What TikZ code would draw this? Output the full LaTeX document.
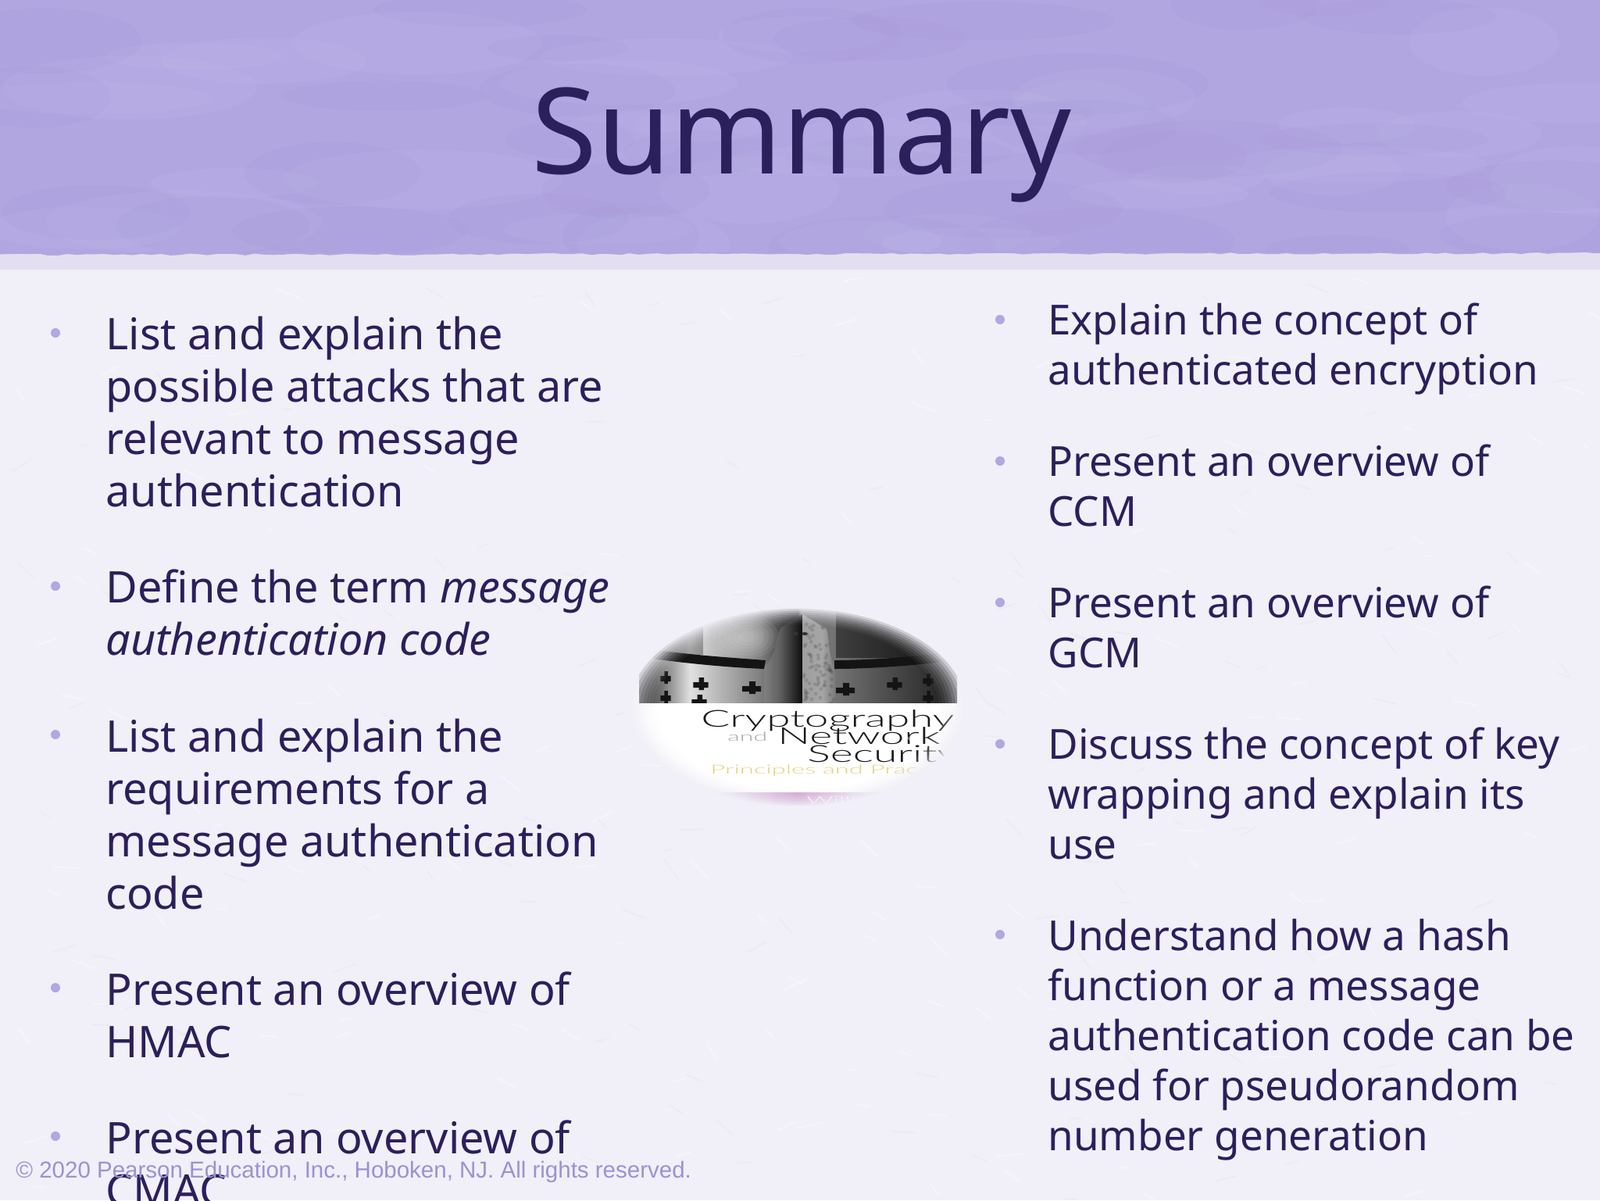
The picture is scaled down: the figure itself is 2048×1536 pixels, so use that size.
\documentclass[tikz,border=0pt]{standalone}
\usepackage{fontspec}
\usetikzlibrary{decorations.pathmorphing}
\setmainfont{Noto Sans}
\newfontfamily\footfont{Liberation Sans}
\newfontfamily\coverfont{Lato Light}
\definecolor{inkpurple}{HTML}{2B1F5C}
\definecolor{bulletpurple}{HTML}{B3A7E0}
\definecolor{headerpurple}{HTML}{B2A6E1}
\definecolor{headerdark}{HTML}{A092D4}
\definecolor{paper}{HTML}{F1EFF7}
\definecolor{bandpurple}{HTML}{E3DFF1}
\definecolor{footpurple}{HTML}{9C91D2}
\definecolor{coveryellow}{HTML}{E2D27A}
\pgfdeclarehorizontalshading{helmshade}{100bp}{
 color(0bp)=(black!85);color(25bp)=(black!85);color(28bp)=(black!60);color(33bp)=(black!12);
 color(38bp)=(black!30);color(44bp)=(black!50);color(47bp)=(black!70);color(50bp)=(black!90);color(50.5bp)=(black!55);
 color(56bp)=(black!55);color(63bp)=(black!68);color(70bp)=(black!80);color(75bp)=(black!92);color(100bp)=(black!92)}
\pgfdeclarehorizontalshading{noseleft}{100bp}{
 color(0bp)=(black!50);color(25bp)=(black!50);color(45bp)=(black!62);color(75bp)=(black!95);color(100bp)=(black!95)}
\pgfdeclarehorizontalshading{noseright}{100bp}{
 color(0bp)=(black!38);color(25bp)=(black!38);color(55bp)=(black!35);color(75bp)=(black!52);color(100bp)=(black!52)}
\tikzset{
 x=.5pt,y=-.5pt,
 lefttext/.style={anchor=base west,inner sep=0,text=inkpurple,font=\fontsize{27.9}{32}\selectfont},
 righttext/.style={anchor=base west,inner sep=0,text=inkpurple,font=\fontsize{26.5}{30}\selectfont},
 bulletdot/.style={circle,fill=bulletpurple,inner sep=0,minimum size=6pt},
 covertext/.style={anchor=base west,inner sep=0,text=black!90},
 helmhole/.pic={\fill[black!92] (-3,-8) rectangle (5,8) (-12,-2) rectangle (12,5);}
}
\begin{document}
\begin{tikzpicture}
\useasboundingbox (0,0) rectangle (2048,1536);
\clip (0,0) rectangle (2048,1536);
% paper and header
\fill[paper] (0,0) rectangle (2048,1536);
\fill[bandpurple] (-10,320) rectangle (2058,345);
\fill[headerpurple,decorate,decoration={random steps,segment length=6pt,amplitude=.6pt}] (-10,-10) -- (-10,326) -- (2058,324) -- (2058,-10) -- cycle;
\pgfmathsetseed{7}
\begin{scope}
\clip (0,0) rectangle (2048,322);
\foreach \i in {1,...,70}{
 \pgfmathsetmacro{\px}{1024+1024*rand}
 \pgfmathsetmacro{\py}{160+160*rand}
 \pgfmathsetmacro{\rx}{40+50*rnd}
 \pgfmathsetmacro{\ry}{8+14*rnd}
 \ifodd\i
  \fill[headerdark,opacity=.12] (\px,\py) ellipse (\rx pt and \ry pt);
 \else
  \fill[white,opacity=.035] (\px,\py) ellipse (\rx pt and \ry pt);
 \fi
}
\end{scope}
% book cover vignette
\fill[white] (1021,905) ellipse (215 and 126);
\begin{scope}
\clip (818,775) rectangle (1225,1040);
\shade[shading=helmshade] (818,775) rectangle (1225,900);
\fill[black,opacity=.45] (1070,775) rectangle (1225,842);
\foreach \r in {1,.85,.7,.55,.4,.25}{
 \fill[white,opacity=.07] (955,815) ellipse ({42*\r} and {28*\r});
}
\fill[black,opacity=.3] (818,775) rectangle (900,838);
\shade[shading=noseleft] (1027,786) -- (1000,803) .. controls (992,815) and (995,840) .. (978,853) -- (978,900) -- (1027,900) -- cycle;
\shade[shading=noseright] (1027,786) -- (1058,805) .. controls (1062,820) and (1060,840) .. (1069,855) -- (1069,900) -- (1027,900) -- cycle;
\begin{scope}
\clip (1027,786) -- (1058,805) .. controls (1062,820) and (1060,840) .. (1069,855) -- (1069,900) -- (1027,900) -- cycle;
\foreach \i in {1,...,90}{
 \pgfmathsetmacro{\px}{1048+21*rand}
 \pgfmathsetmacro{\py}{843+57*rand}
 \fill[black,opacity=.12] (\px,\py) circle (1.2pt);
}
\end{scope}
\fill[black!92] (835,831) .. controls (880,838) and (940,842) .. (980,845) -- (978,856) .. controls (930,854) and (880,849) .. (835,843) -- cycle;
\fill[black!92] (1068,845) .. controls (1110,845) and (1170,841) .. (1215,834) -- (1215,846) .. controls (1170,852) and (1110,856) .. (1068,856) -- cycle;
\fill[black!80] (1018,811) ellipse (4 and 2) (1030,811) ellipse (4 and 2);
\foreach \n/\hx/\hy/\hs in {a/852/867/.55,b/897/875/.8,c/962/880/1,d/1082/882/1,e/1145/875/.8,f/1188/870/.55,g/852/892/.55,h/895/897/.8,i/1188/892/.55}{
 \pic[xscale=\hs] (hole\n) at (\hx,\hy) {helmhole};
}
\fill[white] (818,900) rectangle (1225,1014);
\shade[left color=paper,right color=paper,middle color=violet!35!white] (905,1014) rectangle (1135,1032);
\node[covertext,font=\coverfont\fontsize{15}{16}\selectfont] (covera) at (897,930) {\scalebox{1.83}[1]{Cryptography}};
\node[covertext,font=\coverfont\fontsize{8}{9}\selectfont,text=black!35] (coverb) at (931,948) {\scalebox{2}[1]{and}};
\node[covertext,font=\coverfont\fontsize{15}{16}\selectfont] (coverc) at (995,952) {\scalebox{1.85}[1]{Network}};
\node[covertext,font=\coverfont\fontsize{15}{16}\selectfont] (coverd) at (1033,975) {\scalebox{1.85}[1]{Security}};
\node[covertext,font=\coverfont\fontsize{8}{9}\selectfont,text=coveryellow] (covere) at (909,990) {\scalebox{2.05}[1]{Principles and Prac}};
\node[covertext,font=\coverfont\fontsize{7}{8}\selectfont,text=white] (coverf) at (1032,1029) {\scalebox{2.4}[1]{Willi}};
\end{scope}
% soft vignette over the cover
\foreach \s/\o in {.84/.05,.86/.07,.88/.09,.90/.12,.92/.16,.94/.22,.96/.32,.98/.5,1/1}{
 \fill[paper,opacity=\o,even odd rule] (800,765) rectangle (1245,1045) (1021,905) ellipse ({215*\s} and {126*\s});
}
% paper texture
\foreach \i in {1,...,320}{
 \pgfmathsetmacro{\px}{1024+1024*rand}
 \pgfmathsetmacro{\py}{945+590*rand}
 \pgfmathsetmacro{\pa}{-30+90*rnd}
 \pgfmathsetmacro{\pl}{10+22*rnd}
 \ifodd\i
 \draw[line width=1.2pt,white,opacity=.35,line cap=round] (\px,\py) -- ++(\pa:\pl);
 \else
 \draw[line width=1pt,black,opacity=.018,line cap=round] (\px,\py) -- ++(\pa:\pl);
 \fi
}
% left column
\node[bulletdot] (la) at (71,426) {};
\node[bulletdot] (lb) at (71,750) {};
\node[bulletdot] (lc) at (71,940) {};
\node[bulletdot] (ld) at (71,1264) {};
\node[bulletdot] (le) at (71,1454) {};
\node[lefttext] (l1) at (135,447) {List and explain the};
\node[lefttext] (l2) at (135,514) {possible attacks that are};
\node[lefttext] (l3) at (135,581) {relevant to message};
\node[lefttext] (l4) at (135,648) {authentication};
\node[lefttext] (l5) at (135,771.5) {Define the term \textit{message}};
\node[lefttext] (l6) at (135,838.5) {\textit{authentication code}};
\node[lefttext] (l7) at (135,962) {List and explain the};
\node[lefttext] (l8) at (135,1029) {requirements for a};
\node[lefttext] (l9) at (135,1096) {message authentication};
\node[lefttext] (l10) at (135,1163) {code};
\node[lefttext] (l11) at (135,1286) {Present an overview of};
\node[lefttext] (l12) at (135,1353) {HMAC};
\node[lefttext] (l13) at (135,1476) {Present an overview of};
\node[lefttext] (l14) at (135,1543) {CMAC};
% right column
\node[bulletdot] (ra) at (1280,409) {};
\node[bulletdot] (rb) at (1280,590) {};
\node[bulletdot] (rc) at (1280,771) {};
\node[bulletdot] (rd) at (1280,952) {};
\node[bulletdot] (re) at (1280,1196) {};
\node[righttext] (r1) at (1341,428.5) {Explain the concept of};
\node[righttext] (r2) at (1341,492.5) {authenticated encryption};
\node[righttext] (r3) at (1341,609.5) {Present an overview of};
\node[righttext] (r4) at (1341,673.5) {CCM};
\node[righttext] (r5) at (1341,790.5) {Present an overview of};
\node[righttext] (r6) at (1341,854.5) {GCM};
\node[righttext] (r7) at (1341,971.5) {Discuss the concept of key};
\node[righttext] (r8) at (1341,1035.5) {wrapping and explain its};
\node[righttext] (r9) at (1341,1099.5) {use};
\node[righttext] (r10) at (1341,1216) {Understand how a hash};
\node[righttext] (r11) at (1341,1280) {function or a message};
\node[righttext] (r12) at (1341,1344) {authentication code can be};
\node[righttext] (r13) at (1341,1408) {used for pseudorandom};
\node[righttext] (r14) at (1341,1472) {number generation};
% title and footer
\node[anchor=base,inner sep=0,text=inkpurple,font=\fontsize{76.4}{80}\selectfont] (title) at (1026,222) {Summary};
\node[anchor=base west,inner sep=0,text=footpurple,font=\footfont\fontsize{14.75}{18}\selectfont] (foot) at (20,1507) {© 2020 Pearson Education, Inc., Hoboken, NJ. All rights reserved.};
\end{tikzpicture}
\end{document}
